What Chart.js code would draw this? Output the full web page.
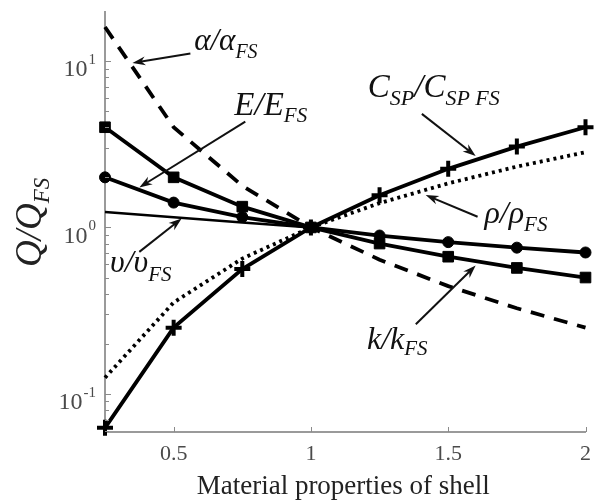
<!DOCTYPE html>
<html lang="en">
<head>
<meta charset="UTF-8">
<title>Q/Q_FS against material properties of shell</title>
<style>
  body { margin: 0; background: #fff; }
  canvas { display: block; }
</style>
</head>
<body>
<canvas id="chart" width="600" height="504"></canvas>
<script src="https://cdn.jsdelivr.net/npm/chart.js"></script>
<script>
// x positions of the data points
const xMarkers = [0.25, 0.5, 0.75, 1, 1.25, 1.5, 1.75, 2];
const xThin = [0.25, 0.5, 0.75, 1];

// series
const alphaVals = [16, 4, 1.78, 1, 0.64, 0.444, 0.327, 0.25];        // dashed
const eVals = [2, 1.41, 1.155, 1, 0.894, 0.816, 0.756, 0.707];        // circles
const kVals = [4, 2, 1.333, 1, 0.8, 0.667, 0.571, 0.5];               // squares
const upsVals = [1.24, 1.15, 1.07, 1];                                 // thin line
const cspVals = [0.0625, 0.25, 0.5625, 1, 1.5625, 2.25, 3.06, 4];      // plus markers
const rhoVals = [0.125, 0.354, 0.65, 1, 1.4, 1.84, 2.32, 2.83];        // dotted

const xTicks = [0.5, 1, 1.5, 2];
const yMajor = [0.1, 1, 10];
const yExp = ['-1', '0', '1'];

const pts = (xs, ys) => ys.map((v, i) => ({ x: xs[i], y: v }));

const SERIF = '"Liberation Serif", "DejaVu Serif", serif';

// text labels with arrows, in data coordinates
const notes = [
  { at: [0.575, 11.6], parts: [['α', 31, 0], ['/', 31, 0], ['α', 31, 0], ['FS', 20, 8]],
    from: [0.561, 11.1], to: [0.35, 9.73] },
  { at: [0.721, 4.75], parts: [['E', 33, 0], ['/', 33, 0], ['E', 33, 0], ['FS', 21, 7]],
    from: [0.761, 4.32], to: [0.375, 1.74] },
  { at: [1.207, 6.06], parts: [['C', 33, 0], ['SP', 22, 8], ['/', 33, 0], ['C', 33, 0], ['SP FS', 22, 8]],
    from: [1.404, 4.81], to: [1.6, 2.69] },
  { at: [1.632, 1.07], parts: [['ρ', 32, 0], ['/', 32, 0], ['ρ', 32, 0], ['FS', 21, 8]],
    from: [1.607, 1.16], to: [1.418, 1.564] },
  { at: [0.268, 0.543], parts: [['υ', 32, 0], ['/', 32, 0], ['υ', 32, 0], ['FS', 21, 9]],
    from: [0.375, 0.713], to: [0.529, 1.13] },
  { at: [1.204, 0.186], parts: [['k', 32, 0], ['/', 32, 0], ['k', 32, 0], ['FS', 21, 6]],
    from: [1.382, 0.262], to: [1.6, 0.59] }
];

function drawRich(ctx, x, y, parts) {
  let cx = x;
  for (const [t, size, dy] of parts) {
    ctx.font = 'italic ' + size + 'px ' + SERIF;
    ctx.fillText(t, cx, y + dy);
    cx += ctx.measureText(t).width;
  }
}

function arrow(ctx, x1, y1, x2, y2) {
  const ang = Math.atan2(y2 - y1, x2 - x1);
  const len = 13, half = 4.5;
  ctx.beginPath();
  ctx.moveTo(x1, y1);
  ctx.lineTo(x2 - Math.cos(ang) * 6, y2 - Math.sin(ang) * 6);
  ctx.stroke();
  ctx.beginPath();
  ctx.moveTo(x2, y2);
  ctx.lineTo(x2 - Math.cos(ang) * len - Math.sin(ang) * half, y2 - Math.sin(ang) * len + Math.cos(ang) * half);
  ctx.lineTo(x2 - Math.cos(ang) * (len - 4), y2 - Math.sin(ang) * (len - 4));
  ctx.lineTo(x2 - Math.cos(ang) * len + Math.sin(ang) * half, y2 - Math.sin(ang) * len - Math.cos(ang) * half);
  ctx.closePath();
  ctx.fill();
}

const overlay = {
  id: 'overlay',
  afterDraw(chart) {
    const { ctx, scales: { x, y }, chartArea: a } = chart;
    ctx.save();

    // inward ticks on the left axis (log, with minor ticks)
    ctx.strokeStyle = '#8a8a8a';
    ctx.lineWidth = 1;
    for (let d = 0.01; d <= 10.01; d *= 10) {
      for (let m = 1; m <= 9; m++) {
        const v = d * m;
        if (v < y.min || v > y.max) continue;
        const py = Math.round(y.getPixelForValue(v)) + 0.5;
        ctx.beginPath();
        ctx.moveTo(a.left, py);
        ctx.lineTo(a.left + (m === 1 ? 6 : 4), py);
        ctx.stroke();
      }
    }
    // inward ticks on the bottom axis
    xTicks.forEach(v => {
      const px = Math.round(x.getPixelForValue(v)) + 0.5;
      ctx.beginPath();
      ctx.moveTo(px, a.bottom);
      ctx.lineTo(px, a.bottom - 5);
      ctx.stroke();
    });

    // y tick labels 10^n
    ctx.fillStyle = '#4a4a4a';
    ctx.textBaseline = 'middle';
    yMajor.forEach((v, i) => {
      const py = y.getPixelForValue(v);
      ctx.font = '15px ' + SERIF;
      const ws = ctx.measureText(yExp[i]).width;
      ctx.textAlign = 'left';
      ctx.fillText(yExp[i], 96 - ws, py - 1);
      ctx.font = '24px ' + SERIF;
      ctx.textAlign = 'right';
      ctx.fillText('10', 95 - ws, py + 9);
    });

    // x axis title
    ctx.fillStyle = '#222';
    ctx.textAlign = 'center';
    ctx.textBaseline = 'alphabetic';
    ctx.font = '27px ' + SERIF;
    ctx.fillText('Material properties of shell', (a.left + a.right) / 2 - 2, 494);

    // y axis title Q/Q_FS, rotated
    ctx.save();
    ctx.translate(41, 267);
    ctx.rotate(-Math.PI / 2);
    ctx.textAlign = 'left';
    ctx.fillStyle = '#222';
    drawRich(ctx, 0, 0, [['Q', 37, 0], ['/', 37, 0], ['Q', 37, 0], ['FS', 23, 8]]);
    ctx.restore();

    // annotations
    ctx.fillStyle = '#111';
    ctx.strokeStyle = '#111';
    ctx.lineWidth = 2;
    ctx.textAlign = 'left';
    notes.forEach(n => {
      drawRich(ctx, x.getPixelForValue(n.at[0]), y.getPixelForValue(n.at[1]), n.parts);
      arrow(ctx,
        x.getPixelForValue(n.from[0]), y.getPixelForValue(n.from[1]),
        x.getPixelForValue(n.to[0]), y.getPixelForValue(n.to[1]));
    });
    ctx.restore();
  }
};

const base = { fill: false, clip: false, tension: 0, borderColor: '#000', backgroundColor: '#000', pointBorderColor: '#000', pointBackgroundColor: '#000' };

new Chart(document.getElementById('chart'), {
  type: 'line',
  data: {
    datasets: [
      { ...base, label: 'C_SP/C_SP_FS', data: pts(xMarkers, cspVals), borderWidth: 3.8,
        pointStyle: 'cross', pointRadius: 8, pointBorderWidth: 4 },
      { ...base, label: 'k/k_FS', data: pts(xMarkers, kVals), borderWidth: 3.8,
        pointStyle: 'rect', pointRadius: 7.5, pointBorderWidth: 1 },
      { ...base, label: 'E/E_FS', data: pts(xMarkers, eVals), borderWidth: 3.8,
        pointStyle: 'circle', pointRadius: 5.5, pointBorderWidth: 1 },
      { ...base, label: 'υ/υ_FS', data: pts(xThin, upsVals), borderWidth: 2.5, pointRadius: 0 },
      { ...base, label: 'α/α_FS', data: pts(xMarkers, alphaVals), borderWidth: 3.8, pointRadius: 0,
        borderDash: [14, 10] },
      { ...base, label: 'ρ/ρ_FS', data: pts(xMarkers, rhoVals), borderWidth: 3.8, pointRadius: 0,
        borderDash: [3, 4] }
    ]
  },
  options: {
    responsive: false,
    animation: false,
    layout: { padding: { top: 3, right: 5, left: 0, bottom: 0 } },
    plugins: { legend: { display: false }, tooltip: { enabled: false } },
    scales: {
      x: {
        type: 'linear', min: 0.25, max: 2,
        afterBuildTicks: s => { s.ticks = xTicks.map(v => ({ value: v })); },
        afterFit: s => { s.height = 72; },
        grid: { display: false, drawTicks: false },
        border: { display: true, color: '#9a9a9a', width: 2 },
        ticks: { color: '#4a4a4a', padding: 9, font: { family: SERIF, size: 22 }, maxRotation: 0,
          callback: v => String(v) }
      },
      y: {
        type: 'logarithmic', min: 0.059, max: 19.7,
        afterFit: s => { s.width = 105; },
        grid: { display: false, drawTicks: false },
        border: { display: true, color: '#9a9a9a', width: 2 },
        ticks: { display: false }
      }
    }
  },
  plugins: [overlay]
});
</script>
</body>
</html>
